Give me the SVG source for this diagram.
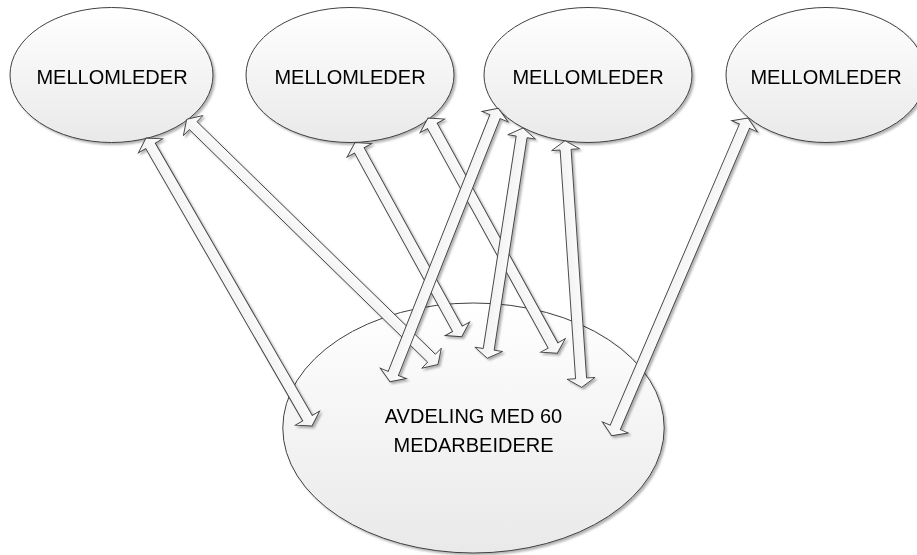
<svg xmlns="http://www.w3.org/2000/svg" width="917" height="555" viewBox="0 0 917 555">
<defs>
<linearGradient id="gE" x1="0" y1="0" x2="0" y2="1">
<stop offset="0" stop-color="#ffffff"/>
<stop offset="1" stop-color="#e9e9e9"/>
</linearGradient>
<linearGradient id="gA" x1="0" y1="0" x2="0" y2="1">
<stop offset="0" stop-color="#ffffff"/>
<stop offset="1" stop-color="#eeeeee"/>
</linearGradient>
<filter id="sh" x="-10%" y="-10%" width="120%" height="120%">
<feDropShadow dx="2" dy="2" stdDeviation="1.2" flood-color="#000" flood-opacity="0.3"/>
</filter>
</defs>
<style>
.node ellipse{fill:url(#gE);stroke:#404040;stroke-width:1}
.lbl{font-family:"Liberation Sans",Arial,sans-serif;font-size:20px;fill:#000;text-anchor:middle}
.arr{fill:url(#gA);stroke:#404040;stroke-width:0.9;stroke-linejoin:miter}
</style>
<g id="mellomleder1" class="node" filter="url(#sh)">
<ellipse cx="111.5" cy="75" rx="101.5" ry="67.5"/>
<text class="lbl" x="112" y="84">MELLOMLEDER</text>
</g>
<g id="mellomleder2" class="node" filter="url(#sh)">
<ellipse cx="350" cy="75" rx="104" ry="67.5"/>
<text class="lbl" x="350" y="84">MELLOMLEDER</text>
</g>
<g id="mellomleder3" class="node" filter="url(#sh)">
<ellipse cx="588" cy="75" rx="104" ry="67.5"/>
<text class="lbl" x="588" y="84">MELLOMLEDER</text>
</g>
<g id="mellomleder4" class="node" filter="url(#sh)">
<ellipse cx="826" cy="75" rx="100" ry="67.5"/>
<text class="lbl" x="826" y="84">MELLOMLEDER</text>
</g>
<g id="avdeling" class="node" filter="url(#sh)">
<ellipse cx="473.5" cy="428" rx="190.7" ry="125"/>
<text class="lbl" x="473.5" y="423">AVDELING MED 60</text>
<text class="lbl" x="473.5" y="452">MEDARBEIDERE</text>
</g>
<g id="connectors" filter="url(#sh)">
<polygon class="arr" transform="translate(146,138) rotate(60.04)" points="0,0 9,-14 9,-5.5 323.4,-5.5 323.4,-14 332.4,0 323.4,14 323.4,5.5 9,5.5 9,14"/>
<polygon class="arr" transform="translate(186.7,119.3) rotate(44.3)" points="0,0 9,-14 9,-5.5 342.1,-5.5 342.1,-14 351.1,0 342.1,14 342.1,5.5 9,5.5 9,14"/>
<polygon class="arr" transform="translate(355,142.5) rotate(61.21)" points="0,0 9,-14 9,-5.5 212.6,-5.5 212.6,-14 221.6,0 212.6,14 212.6,5.5 9,5.5 9,14"/>
<polygon class="arr" transform="translate(428,118) rotate(61.21)" points="0,0 9,-14 9,-5.5 259.5,-5.5 259.5,-14 268.5,0 259.5,14 259.5,5.5 9,5.5 9,14"/>
<polygon class="arr" transform="translate(498.3,108.3) rotate(111.61)" points="0,0 9,-14 9,-5.5 285.1,-5.5 285.1,-14 294.1,0 285.1,14 285.1,5.5 9,5.5 9,14"/>
<polygon class="arr" transform="translate(523,128) rotate(98.81)" points="0,0 9,-14 9,-5.5 224,-5.5 224,-14 233,0 224,14 224,5.5 9,5.5 9,14"/>
<polygon class="arr" transform="translate(565,140.7) rotate(86.13)" points="0,0 9,-14 9,-5.5 238.2,-5.5 238.2,-14 247.2,0 238.2,14 238.2,5.5 9,5.5 9,14"/>
<polygon class="arr" transform="translate(748,118) rotate(113.22)" points="0,0 9,-14 9,-5.5 336.7,-5.5 336.7,-14 345.7,0 336.7,14 336.7,5.5 9,5.5 9,14"/>
</g>
</svg>
